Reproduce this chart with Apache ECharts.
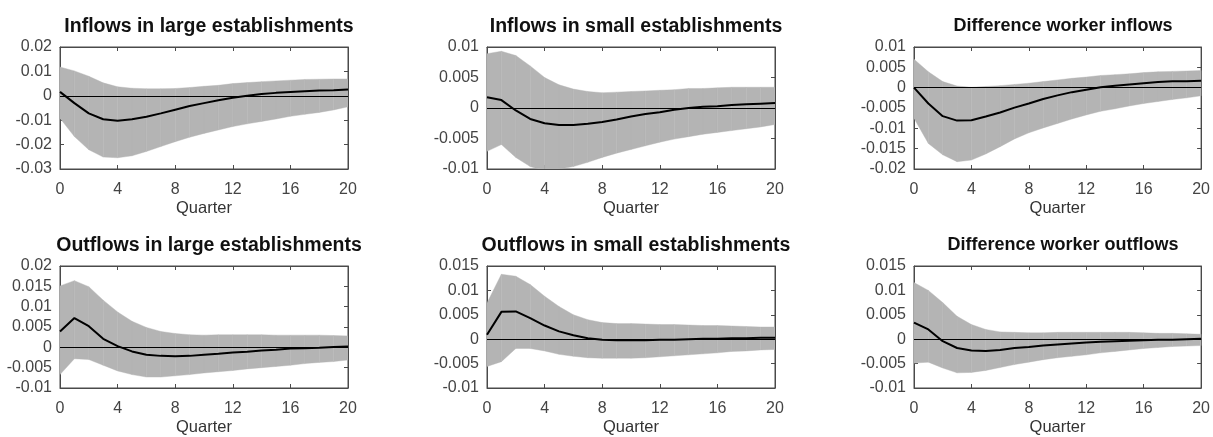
<!DOCTYPE html>
<html>
<head>
<meta charset="utf-8">
<script src="https://cdn.jsdelivr.net/npm/echarts@6/dist/echarts.min.js"></script>
<style>
  html, body { margin: 0; padding: 0; background: #fff; }
  #chart { width: 1213px; height: 437px; }
</style>
</head>
<body>
<div id="chart"></div>
<script>
// quarters after the shock
const quarters = [0, 1, 2, 3, 4, 5, 6, 7, 8, 9, 10, 11, 12, 13, 14, 15, 16, 17, 18, 19, 20]

// Inflows in large establishments
const inLargeIrf = [0.0016, -0.003, -0.0072, -0.0096, -0.0102, -0.0096, -0.0086, -0.0072, -0.0057, -0.0042, -0.003, -0.0018, -0.0008, 0, 0.0007, 0.0012, 0.0016, 0.0019, 0.0022, 0.0023, 0.0026]
const inLargeHi = [0.0118, 0.0102, 0.008, 0.0053, 0.0037, 0.0031, 0.0029, 0.0029, 0.003, 0.0034, 0.0039, 0.0043, 0.005, 0.0054, 0.0058, 0.0061, 0.0064, 0.0067, 0.0068, 0.0069, 0.0069]
const inLargeLo = [-0.0092, -0.0167, -0.0221, -0.0251, -0.0254, -0.0246, -0.0228, -0.0208, -0.0188, -0.017, -0.0154, -0.014, -0.0126, -0.0115, -0.0105, -0.0095, -0.0084, -0.0076, -0.0068, -0.0058, -0.0045]

// Inflows in small establishments
const inSmallIrf = [0.00175, 0.0013, -0.0004, -0.0018, -0.0025, -0.0028, -0.0028, -0.0026, -0.0023, -0.0019, -0.0014, -0.001, -0.0007, -0.0003, 0, 0.0002, 0.0003, 0.0005, 0.0006, 0.0007, 0.0008]
const inSmallHi = [0.0089, 0.0093, 0.0086, 0.0069, 0.005, 0.0038, 0.0031, 0.0027, 0.0025, 0.0026, 0.0027, 0.0028, 0.0029, 0.003, 0.0032, 0.0032, 0.0033, 0.0034, 0.0034, 0.0034, 0.0034]
const inSmallLo = [-0.0071, -0.006, -0.0081, -0.0096, -0.0103, -0.01, -0.0096, -0.0089, -0.0081, -0.0074, -0.0068, -0.0062, -0.0056, -0.0051, -0.0047, -0.0043, -0.004, -0.0037, -0.0034, -0.0031, -0.0027]

// Difference worker inflows
const inDiffIrf = [0, -0.0039, -0.007, -0.0081, -0.008, -0.0071, -0.0061, -0.0049, -0.0039, -0.0028, -0.0019, -0.0011, -0.0005, 0.0001, 0.0005, 0.0008, 0.0011, 0.0014, 0.0016, 0.0016, 0.0017]
const inDiffHi = [0.007, 0.0039, 0.0015, 0.0004, 0.0001, 0.0003, 0.0005, 0.0008, 0.0011, 0.0015, 0.0019, 0.0023, 0.0026, 0.003, 0.0032, 0.0034, 0.0037, 0.0039, 0.004, 0.0041, 0.0042]
const inDiffLo = [-0.0075, -0.0137, -0.0165, -0.0182, -0.0178, -0.0163, -0.0145, -0.0126, -0.0111, -0.0099, -0.0088, -0.0077, -0.0067, -0.0058, -0.0052, -0.0045, -0.0039, -0.0034, -0.0029, -0.0025, -0.002]

// Outflows in large establishments
const outLargeIrf = [0.0039, 0.0072, 0.0052, 0.0021, 0.0003, -0.001, -0.0018, -0.0021, -0.0022, -0.0021, -0.0018, -0.0016, -0.0013, -0.0011, -0.0008, -0.0006, -0.0003, -0.0002, -0.0001, 0.0001, 0.0002]
const outLargeHi = [0.0151, 0.0164, 0.0149, 0.0116, 0.0087, 0.0064, 0.0049, 0.0039, 0.0034, 0.0031, 0.003, 0.0031, 0.0031, 0.0031, 0.0031, 0.003, 0.003, 0.003, 0.003, 0.0029, 0.0028]
const outLargeLo = [-0.0067, -0.0028, -0.003, -0.0044, -0.0058, -0.0067, -0.0073, -0.0073, -0.007, -0.0067, -0.0063, -0.006, -0.0057, -0.0053, -0.005, -0.0047, -0.0044, -0.004, -0.0037, -0.0035, -0.0031]

// Outflows in small establishments
const outSmallIrf = [0.0009, 0.0056, 0.0057, 0.0043, 0.0028, 0.0016, 0.0008, 0.0002, -0.0001, -0.0002, -0.0002, -0.0002, -0.0001, -0.0001, 0, 0.0001, 0.0001, 0.0002, 0.0002, 0.0003, 0.0003]
const outSmallHi = [0.0074, 0.0133, 0.0129, 0.0112, 0.0088, 0.0067, 0.005, 0.004, 0.0034, 0.0032, 0.0032, 0.0031, 0.003, 0.003, 0.0029, 0.0028, 0.0028, 0.0027, 0.0026, 0.0025, 0.0025]
const outSmallLo = [-0.0056, -0.0046, -0.0019, -0.0019, -0.0024, -0.0031, -0.0035, -0.0038, -0.0039, -0.0039, -0.0039, -0.0038, -0.0036, -0.0034, -0.0032, -0.003, -0.0028, -0.0025, -0.0024, -0.0022, -0.0021]

// Difference worker outflows
const outDiffIrf = [0.0034, 0.002, -0.0004, -0.0018, -0.0023, -0.0024, -0.0022, -0.0018, -0.0016, -0.0013, -0.0011, -0.0009, -0.0007, -0.0005, -0.0004, -0.0003, -0.0002, -0.0001, -0.0001, 0, 0.0001]
const outDiffHi = [0.0116, 0.01, 0.0075, 0.0047, 0.003, 0.002, 0.0015, 0.0014, 0.0013, 0.0013, 0.0014, 0.0014, 0.0014, 0.0014, 0.0014, 0.0014, 0.0013, 0.0012, 0.0012, 0.0011, 0.001]
const outDiffLo = [-0.0049, -0.0047, -0.0059, -0.0069, -0.0068, -0.0064, -0.0058, -0.0052, -0.0047, -0.0042, -0.0038, -0.0035, -0.0032, -0.0028, -0.0025, -0.0022, -0.0019, -0.0017, -0.0015, -0.0014, -0.0013]

const titles = [
  'Inflows in large establishments',
  'Inflows in small establishments',
  'Difference worker inflows',
  'Outflows in large establishments',
  'Outflows in small establishments',
  'Difference worker outflows'
]
const yMins = [-0.03, -0.01, -0.02, -0.01, -0.01, -0.01]
const yMaxs = [0.02, 0.01, 0.01, 0.02, 0.015, 0.015]
const ySteps = [0.01, 0.005, 0.005, 0.005, 0.005, 0.005]

const panels = [
  { irf: inLargeIrf, hi: inLargeHi, lo: inLargeLo },
  { irf: inSmallIrf, hi: inSmallHi, lo: inSmallLo },
  { irf: inDiffIrf, hi: inDiffHi, lo: inDiffLo },
  { irf: outLargeIrf, hi: outLargeHi, lo: outLargeLo },
  { irf: outSmallIrf, hi: outSmallHi, lo: outSmallLo },
  { irf: outDiffIrf, hi: outDiffHi, lo: outDiffLo }
]

const FONT = 'Liberation Sans, Arial, sans-serif'
const colLeft = [60, 487, 914]
const rowTop = [47, 266]
const titleSize = [19.5, 19.5, 18]
const plotW = 288
const plotH = 122
const boxColor = '#4a4a4a'
const bandColor = '#b4b4b4'

const fmt = v => String(+v.toFixed(4))

const grid = []
const xAxis = []
const yAxis = []
const series = []
const title = []

panels.forEach((p, i) => {
  const left = colLeft[i % 3]
  const top = rowTop[Math.floor(i / 3)]
  const ts = titleSize[i % 3]
  grid.push({
    left: left, top: top, width: plotW, height: plotH,
    show: true, borderColor: boxColor, borderWidth: 1, backgroundColor: '#fff'
  })
  title.push({
    text: titles[i],
    left: left + plotW / 2,
    top: top - 35 - (ts - 18) / 2,
    textAlign: 'center',
    textStyle: { fontFamily: FONT, fontSize: ts, fontWeight: 'bold', color: '#111' }
  })
  const xa = {
    type: 'value', gridIndex: i, min: 0, max: 20, interval: 4,
    axisLine: { show: true, onZero: false, lineStyle: { color: boxColor } },
    axisTick: { show: true, inside: true, length: 4, lineStyle: { color: boxColor } },
    splitLine: { show: false }
  }
  xAxis.push(Object.assign({}, xa, {
    position: 'bottom',
    name: 'Quarter', nameLocation: 'middle', nameGap: 31,
    nameTextStyle: { fontFamily: FONT, fontSize: 16.5, color: '#333' },
    axisLabel: { margin: 13, fontFamily: FONT, fontSize: 16, color: '#444' }
  }))
  xAxis.push(Object.assign({}, xa, {
    position: 'top', axisLabel: { show: false }
  }))
  const ya = {
    type: 'value', gridIndex: i, min: yMins[i], max: yMaxs[i], interval: ySteps[i],
    axisLine: { show: true, onZero: false, lineStyle: { color: boxColor } },
    axisTick: { show: true, inside: true, length: 4, lineStyle: { color: boxColor } },
    splitLine: { show: false }
  }
  yAxis.push(Object.assign({}, ya, {
    position: 'left',
    axisLabel: { margin: 8, fontFamily: FONT, fontSize: 16, color: '#444', formatter: fmt }
  }))
  yAxis.push(Object.assign({}, ya, {
    position: 'right', axisLabel: { show: false }
  }))

  const xi = i * 2
  // confidence band: one quad per quarter step, placed through the axes' scales
  series.push({
    type: 'custom', xAxisIndex: xi, yAxisIndex: xi, clip: true, silent: true, z: 1,
    data: quarters.map((q, k) => [q, p.lo[k], p.hi[k]]),
    renderItem: (params, api) => {
      const k = params.dataIndex
      if (k >= quarters.length - 1) return null
      const pts = [
        api.coord([quarters[k], p.lo[k]]),
        api.coord([quarters[k + 1], p.lo[k + 1]]),
        api.coord([quarters[k + 1], p.hi[k + 1]]),
        api.coord([quarters[k], p.hi[k]])
      ]
      return {
        type: 'polygon',
        shape: { points: pts },
        style: { fill: bandColor, stroke: bandColor, lineWidth: 0.4 }
      }
    }
  })
  series.push({
    type: 'line', xAxisIndex: xi, yAxisIndex: xi,
    data: quarters.map((q, k) => [q, p.irf[k]]),
    symbol: 'none', lineStyle: { color: '#000', width: 2 }, z: 5,
    markLine: {
      silent: true, symbol: 'none', label: { show: false },
      lineStyle: { color: '#000', width: 1, type: 'solid' },
      data: [{ yAxis: 0 }]
    }
  })
})

const chart = echarts.init(document.getElementById('chart'))
chart.setOption({
  animation: false,
  backgroundColor: '#fff',
  title: title,
  grid: grid,
  xAxis: xAxis,
  yAxis: yAxis,
  series: series
})
</script>
</body>
</html>
